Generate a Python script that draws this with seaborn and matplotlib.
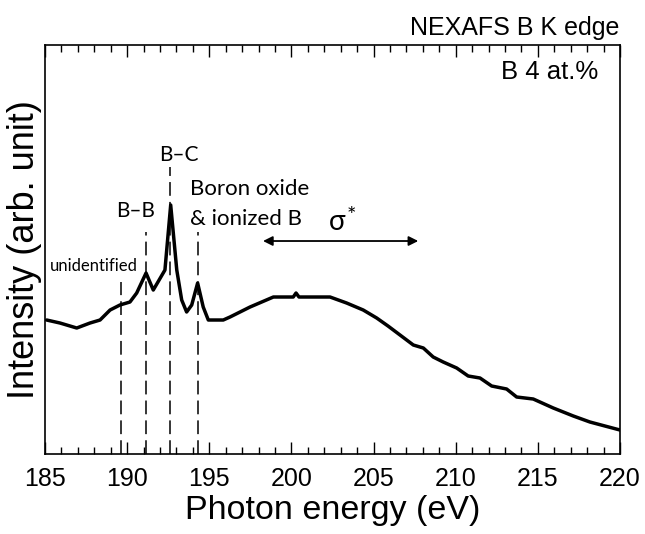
import numpy as np
import pandas as pd
import seaborn as sns
import matplotlib.pyplot as plt
from matplotlib.ticker import MultipleLocator

# NEXAFS B K edge spectrum
energy = [185.10, 185.91, 186.93, 187.74, 188.35, 188.96, 189.56, 190.17, 190.58,
          191.15, 191.59, 192.30, 192.65, 193.02, 193.32, 193.62, 193.93, 194.29,
          194.63, 194.94, 195.85, 196.26, 196.87, 197.48, 198.90, 200.11, 200.28,
          200.46, 202.35, 203.36, 204.37, 205.19, 205.88, 206.61, 207.42, 208.03,
          208.63, 209.24, 210.06, 210.76, 211.48, 212.19, 213.10, 213.71, 214.72,
          215.94, 217.16, 218.17, 220.00]
intensity = [1.34, 1.31, 1.26, 1.31, 1.34, 1.44, 1.49, 1.52, 1.61,
             1.81, 1.64, 1.84, 2.49, 1.84, 1.54, 1.42, 1.49, 1.71,
             1.47, 1.34, 1.34, 1.37, 1.42, 1.47, 1.57, 1.57, 1.61,
             1.57, 1.57, 1.51, 1.44, 1.36, 1.28, 1.19, 1.09, 1.06,
             0.97, 0.92, 0.86, 0.78, 0.76, 0.68, 0.65, 0.57, 0.55,
             0.46, 0.38, 0.32, 0.24]

# peak marker positions (eV) and top of each dashed line
peak_pos = [189.6, 191.13, 192.6, 194.31]
peak_top = [1.72, 2.22, 2.87, 2.22]

df = pd.DataFrame({'Energy': energy, 'Intensity': intensity})

sns.set_theme(style='ticks')
plt.rcParams['font.family'] = ['Liberation Sans', 'DejaVu Sans']
plt.rcParams['text.color'] = 'black'
plt.rcParams['axes.labelcolor'] = 'black'
plt.rcParams['xtick.color'] = 'black'

fig = plt.figure(figsize=(6.45, 5.34), dpi=100)
ax = fig.add_axes([0.0698, 0.1498, 0.8914, 0.7659])

sns.lineplot(data=df, x='Energy', y='Intensity', color='black', linewidth=2.5, ax=ax)

# dashed peak lines
for xp, yt in zip(peak_pos, peak_top):
    ax.plot([xp, xp], [0, yt], color='black', linewidth=1.1, dashes=(9, 4))

ax.set_xlim(185, 220)
ax.set_ylim(0, 4.09)
ax.xaxis.set_major_locator(MultipleLocator(5))
ax.xaxis.set_minor_locator(MultipleLocator(1))
ax.set_yticks([])
ax.tick_params(axis='x', which='major', direction='in', length=8.5, width=1,
               top=True, labelsize=18, pad=9)
ax.tick_params(axis='x', which='minor', direction='in', length=5, width=1, top=True)
for sp in ax.spines.values():
    sp.set_visible(True)
    sp.set_linewidth(1.2)
    sp.set_color('black')

ax.set_xlabel('Photon energy (eV)', fontsize=24.5, labelpad=3)
ax.set_ylabel('Intensity (arb. unit)', fontsize=26, labelpad=2)

# annotations
lab = ['Lato', 'DejaVu Sans']
ax.text(185.3, 1.88, 'unidentified', fontsize=12, family=lab, va='center', ha='left')
ax.text(190.54, 2.43, 'B\u2013B', fontsize=15, family=lab, va='center', ha='center')
ax.text(193.16, 2.99, 'B\u2013C', fontsize=15, family=lab, va='center', ha='center')
ax.text(193.83, 2.655, 'Boron oxide', fontsize=16, family=lab, va='center', ha='left')
ax.text(193.83, 2.355, '& ionized B', fontsize=16, family=lab, va='center', ha='left')
ax.text(202.8, 2.32, '\u03c3', fontsize=20, family=lab, va='center', ha='center')
ax.text(203.62, 2.38, '*', fontsize=16, family=lab, va='center', ha='center')
ax.annotate('', xy=(207.72, 2.13), xytext=(198.27, 2.13),
            arrowprops=dict(arrowstyle='<|-|>', color='black', lw=1.3,
                            mutation_scale=14, shrinkA=0, shrinkB=0))

ax.text(0.962, 0.934, 'B 4 at.%', transform=ax.transAxes, fontsize=18.5,
        ha='right', va='center')
fig.text(0.961, 0.948, 'NEXAFS B K edge', fontsize=18, ha='right', va='center')

plt.savefig('out.png', dpi=100)
plt.close()
